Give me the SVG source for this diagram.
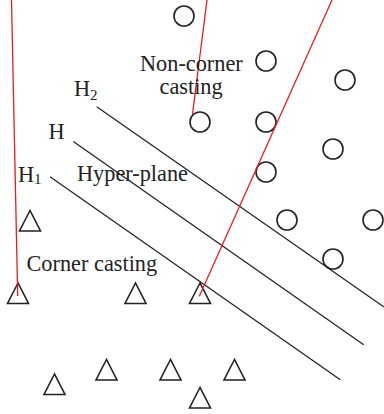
<svg xmlns="http://www.w3.org/2000/svg" width="384" height="414" viewBox="0 0 384 414">
<style>
.t{font-family:"Liberation Serif","Times New Roman",serif;font-size:22.3px;fill:#222}
.s{font-size:15px}
.c{fill:none;stroke:#222;stroke-width:1.6}
.tr{fill:none;stroke:#222;stroke-width:1.6;stroke-linejoin:miter}
.ln{stroke:#222;stroke-width:1.3;fill:none}
.red{stroke:#ee1c1c;stroke-width:1.3;fill:none}
</style>
<defs>
<circle id="circ" r="10" class="c"/>
<path id="tri" d="M0,0 L-10.5,20.5 L10.5,20.5 Z" class="tr"/>
</defs>
<rect width="384" height="414" fill="#fff"/>
<g id="noncorner">
<use href="#circ" x="184" y="16"/>
<use href="#circ" x="266" y="61"/>
<use href="#circ" x="345" y="80"/>
<use href="#circ" x="200" y="122"/>
<use href="#circ" x="266" y="122"/>
<use href="#circ" x="333" y="149"/>
<use href="#circ" x="266" y="172"/>
<use href="#circ" x="287" y="220"/>
<use href="#circ" x="373" y="220"/>
<use href="#circ" x="333" y="259"/>
</g>
<g id="corner">
<use href="#tri" x="30" y="210.5"/>
<use href="#tri" x="18" y="283"/>
<use href="#tri" x="135.5" y="283"/>
<use href="#tri" x="200" y="283"/>
<use href="#tri" x="54.5" y="374"/>
<use href="#tri" x="106.5" y="359.5"/>
<use href="#tri" x="170.5" y="359.5"/>
<use href="#tri" x="234.5" y="359.5"/>
<use href="#tri" x="200" y="387.5"/>
</g>
<g id="connectors">
<line class="ln" x1="96.7" y1="106.7" x2="384" y2="307"/>
<line class="ln" x1="73.3" y1="141.5" x2="363.7" y2="344.7"/>
<line class="ln" x1="50" y1="176.7" x2="340.3" y2="379.7"/>
<line class="red" x1="11.5" y1="0" x2="17.7" y2="296"/>
<line class="red" x1="207" y1="0" x2="192.5" y2="114"/>
<line class="red" x1="332" y1="0" x2="199.3" y2="296.3"/>
</g>
<g id="labels">
<text class="t" x="140" y="71">Non-corner</text>
<text class="t" x="159.5" y="94">casting</text>
<text class="t" x="74" y="95.5">H<tspan class="s" dy="4">2</tspan></text>
<text class="t" x="48.5" y="139">H</text>
<text class="t" x="18" y="182">H<tspan class="s" dy="2">1</tspan></text>
<text class="t" x="77" y="181">Hyper-plane</text>
<text class="t" x="26.5" y="271">Corner casting</text>
</g>
</svg>
